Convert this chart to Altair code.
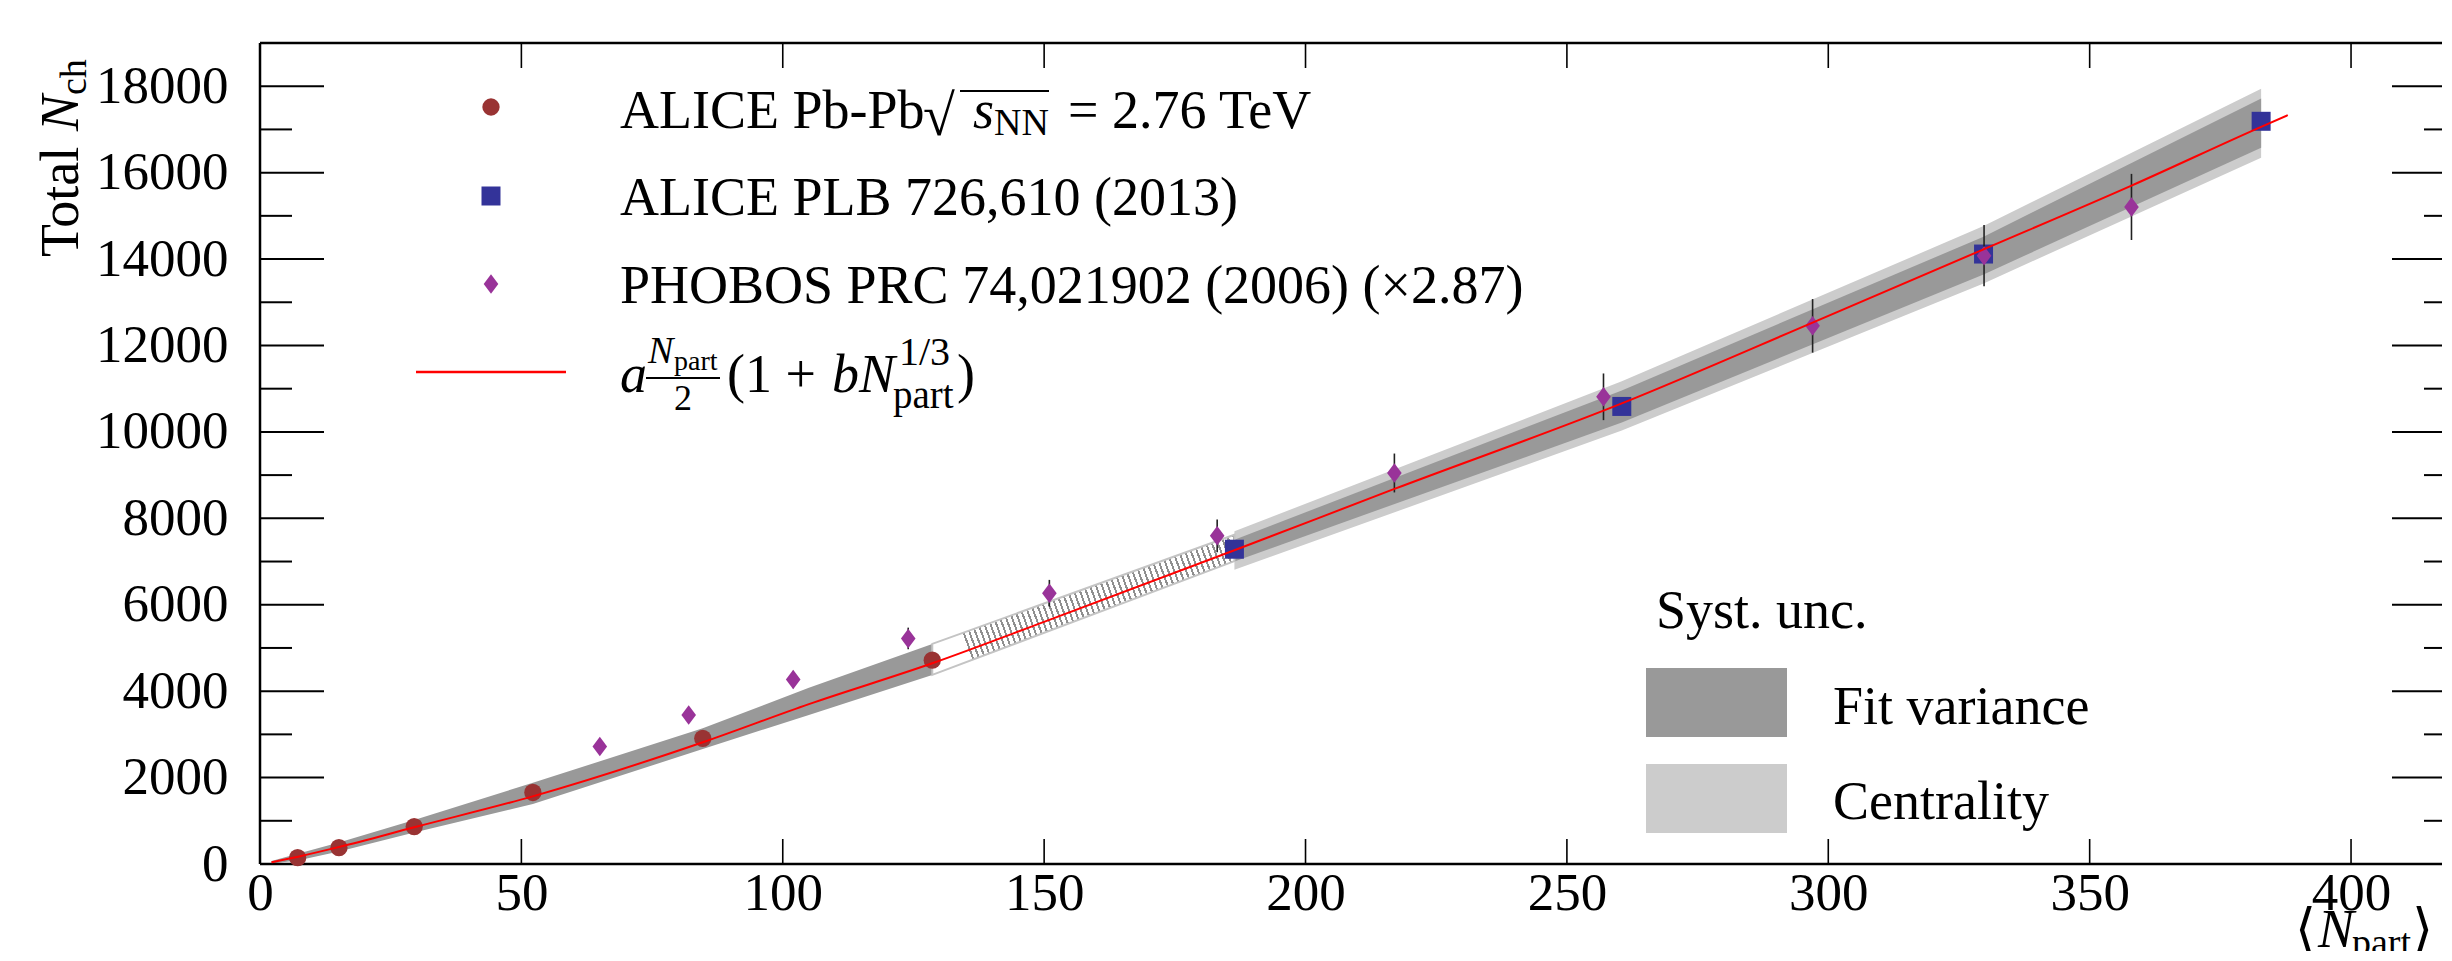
import altair as alt
import pandas as pd

FONT = "Liberation Serif"

# ---------------- data ----------------
alice_x = [7.2, 15.1, 29.5, 52.2, 84.7, 128.6]
alice_y = [146, 378, 866, 1655, 2908, 4717]

plb_x = [186.4, 260.5, 329.7, 382.8]
plb_y = [7285, 10589, 14116, 17188]

phobos_x = [65.0, 82.0, 102.0, 124.0, 151.0, 183.1, 217.0, 257.0, 297.0, 329.8, 358.0]
phobos_y = [2722, 3449, 4269, 5220, 6265, 7594, 9049, 10812, 12454, 14079, 15206]
phobos_err = [150, 170, 200, 250, 310, 380, 450, 540, 620, 710, 765]

fit_x = [2.2, 7.3, 15.0, 29.5, 52.0, 85.0, 105.0, 128.6, 151.0, 186.4, 217.0, 260.5,
         297.0, 329.7, 358.0, 382.8, 387.9]
fit_y = [40, 170, 390, 850, 1560, 2830, 3700, 4645, 5650, 7260, 8680, 10660,
         12530, 14225, 15700, 17060, 17330]

# fit-variance band, peripheral part
band_l_x = [2.2, 7.2, 15.1, 29.5, 52.2, 84.7, 105.0, 128.6]
band_l_lo = [10, 80, 290, 730, 1390, 2660, 3451, 4376]
band_l_hi = [70, 240, 500, 1020, 1880, 3140, 4077, 5093]

# interpolated (hatched) part
hatch_x = [128.6, 186.4]
hatch_lo = [4376, 7010]
hatch_hi = [5093, 7620]

# central part: fit variance (dark) and centrality (light)
band_r_x = [186.4, 260.5, 329.7, 382.8]
light_lo = [6807, 10030, 13435, 16347]
light_hi = [7700, 11170, 14763, 17944]
dark_lo = [7003, 10215, 13644, 16578]
dark_hi = [7505, 10960, 14517, 17713]

x_labels = [0, 50, 100, 150, 200, 250, 300, 350, 400]
x_ticks = [50, 100, 150, 200, 250, 300, 350, 400]
y_major = [0, 2000, 4000, 6000, 8000, 10000, 12000, 14000, 16000, 18000]
y_minor = [1000, 3000, 5000, 7000, 9000, 11000, 13000, 15000, 17000]

# ---------------- layout ----------------
W, H = 2182, 821
C_ALICE = "#993333"
C_PLB = "#333399"
C_PHOBOS = "#993399"
DIAMOND = "M0,-1L0.75,0L0,1L-0.75,0Z"

xs = alt.Scale(domain=[0, 417.4], nice=False, zero=False)
ys = alt.Scale(domain=[0, 19000], nice=False, zero=False)
xax = alt.Axis(values=x_labels, format="d", ticks=False, domain=False, grid=False,
               labelFont=FONT, labelFontSize=53, labelPadding=3, labelFlush=False,
               labelColor="black", labelOverlap=False, title=None)
yax = alt.Axis(values=y_major, format="d", ticks=False, domain=False, grid=False,
               labelFont=FONT, labelFontSize=53, labelPadding=32, labelFlush=False,
               labelColor="black", labelOverlap=False, title=None)


def X(f):
    return alt.X(f, type="quantitative", scale=xs, axis=xax)


def Y(f):
    return alt.Y(f, type="quantitative", scale=ys, axis=yax)


one = pd.DataFrame({"k": [0]})


def T(text, px, py, size=54, italic=False, angle=0, align="left"):
    kw = dict(text=text, font=FONT, fontSize=size, align=align, baseline="alphabetic",
              color="black")
    if italic:
        kw["fontStyle"] = "italic"
    if angle:
        kw["angle"] = angle
    return alt.Chart(one).mark_text(**kw).encode(x=alt.value(px), y=alt.value(py))


def hrule(x1, x2, y, color="black", sw=2.0):
    return alt.Chart(one).mark_rule(color=color, strokeWidth=sw).encode(
        x=alt.value(x1), x2=alt.value(x2), y=alt.value(y))


def vrule(x, y1, y2, color="black", sw=2.0):
    return alt.Chart(one).mark_rule(color=color, strokeWidth=sw).encode(
        x=alt.value(x), y=alt.value(y1), y2=alt.value(y2))


def rect(x1, x2, y1, y2, color):
    return alt.Chart(one).mark_rect(color=color).encode(
        x=alt.value(x1), x2=alt.value(x2), y=alt.value(y1), y2=alt.value(y2))


# ---------------- tables ----------------
df_band_l = pd.DataFrame({"x": band_l_x, "lo": band_l_lo, "hi": band_l_hi})
df_hatch = pd.DataFrame({"x": hatch_x, "lo": hatch_lo, "hi": hatch_hi})
df_light = pd.DataFrame({"x": band_r_x, "lo": light_lo, "hi": light_hi})
df_dark = pd.DataFrame({"x": band_r_x, "lo": dark_lo, "hi": dark_hi})
df_alice = pd.DataFrame({"x": alice_x, "y": alice_y})
df_plb = pd.DataFrame({"x": plb_x, "y": plb_y})
df_ph = pd.DataFrame({"x": phobos_x, "y": phobos_y,
                      "lo": [v - e for v, e in zip(phobos_y, phobos_err)],
                      "hi": [v + e for v, e in zip(phobos_y, phobos_err)]})
df_fit = pd.DataFrame({"x": fit_x, "y": fit_y})
df_ymaj = pd.DataFrame({"v": y_major})
df_ymin = pd.DataFrame({"v": y_minor})
df_xt = pd.DataFrame({"v": x_ticks})

# hatch pattern as a striped gradient
stops = []
N_STRIPES = 52
for k in range(N_STRIPES):
    a = k / N_STRIPES
    b = (k + 0.55) / N_STRIPES
    c = (k + 0.9) / N_STRIPES
    d = (k + 1) / N_STRIPES
    stops += [alt.GradientStop(color="#ffffff", offset=a),
              alt.GradientStop(color="#ffffff", offset=b),
              alt.GradientStop(color="#8f8f8f", offset=b),
              alt.GradientStop(color="#8f8f8f", offset=c),
              alt.GradientStop(color="#ffffff", offset=c),
              alt.GradientStop(color="#ffffff", offset=min(d, 1.0))]
hatch_fill = alt.LinearGradient(gradient="linear", stops=stops, x1=0, y1=0.169, x2=1, y2=0)

layers = []
layers.append(alt.Chart(df_band_l).mark_area(color="#999999", opacity=1).encode(
    x=X("x"), y=Y("lo"), y2=alt.Y2("hi")))
layers.append(alt.Chart(df_light).mark_area(color="#cccccc", opacity=1).encode(
    x=X("x"), y=Y("lo"), y2=alt.Y2("hi")))
layers.append(alt.Chart(df_dark).mark_area(color="#999999", opacity=1).encode(
    x=X("x"), y=Y("lo"), y2=alt.Y2("hi")))
layers.append(alt.Chart(df_hatch).mark_area(fill=hatch_fill, stroke="#c4c4c4", strokeWidth=2,
                                            opacity=1).encode(
    x=X("x"), y=Y("lo"), y2=alt.Y2("hi")))

# ticks (inward, ROOT style)
layers.append(alt.Chart(df_ymaj).mark_rule(color="black", strokeWidth=2).encode(
    y=Y("v"), x=alt.value(0), x2=alt.value(64)))
layers.append(alt.Chart(df_ymin).mark_rule(color="black", strokeWidth=2).encode(
    y=Y("v"), x=alt.value(0), x2=alt.value(32)))
layers.append(alt.Chart(df_ymaj).mark_rule(color="black", strokeWidth=2).encode(
    y=Y("v"), x=alt.value(W - 50), x2=alt.value(W)))
layers.append(alt.Chart(df_ymin).mark_rule(color="black", strokeWidth=2).encode(
    y=Y("v"), x=alt.value(W - 18), x2=alt.value(W)))
layers.append(alt.Chart(df_xt).mark_rule(color="black", strokeWidth=1.6).encode(
    x=X("v"), y=alt.value(H - 25), y2=alt.value(H)))
layers.append(alt.Chart(df_xt).mark_rule(color="black", strokeWidth=1.6).encode(
    x=X("v"), y=alt.value(0), y2=alt.value(25)))
# frame
layers.append(hrule(0, W, 0, sw=2.5))
layers.append(hrule(0, W, H, sw=2.5))
layers.append(vrule(0, 0, H, sw=2.5))

# data markers
layers.append(alt.Chart(df_alice).mark_point(shape="circle", filled=True, size=300,
                                             color=C_ALICE, opacity=1).encode(
    x=X("x"), y=Y("y")))
layers.append(alt.Chart(df_plb).mark_point(shape="square", filled=True, size=361,
                                           color=C_PLB, opacity=1).encode(
    x=X("x"), y=Y("y")))
layers.append(alt.Chart(df_ph).mark_rule(color="#222222", strokeWidth=1.6).encode(
    x=X("x"), y=Y("lo"), y2=alt.Y2("hi")))
layers.append(alt.Chart(df_ph).mark_point(shape=DIAMOND, filled=True, size=380,
                                          color=C_PHOBOS, opacity=1).encode(
    x=X("x"), y=Y("y")))
layers.append(alt.Chart(df_fit).mark_line(color="#ff0000", strokeWidth=2,
                                          interpolate="monotone").encode(
    x=X("x"), y=Y("y")))

# ---------------- legend (top left) ----------------
layers.append(alt.Chart(one).mark_point(shape="circle", filled=True, size=300, color=C_ALICE,
                                        opacity=1).encode(x=alt.value(231), y=alt.value(64)))
layers.append(alt.Chart(one).mark_point(shape="square", filled=True, size=361, color=C_PLB,
                                        opacity=1).encode(x=alt.value(231), y=alt.value(153)))
layers.append(alt.Chart(one).mark_point(shape=DIAMOND, filled=True, size=380, color=C_PHOBOS,
                                        opacity=1).encode(x=alt.value(231), y=alt.value(241)))
layers.append(hrule(156, 306, 329, color="#ff0000", sw=2.5))

layers.append(T("ALICE Pb-Pb", 360, 85))
layers.append(T("\u221a", 663, 92, size=58))
layers.append(hrule(700, 789, 48, sw=2))
layers.append(T("s", 713, 85, italic=True))
layers.append(T("NN", 734, 92, size=38))
layers.append(T("= 2.76 TeV", 808, 85))
layers.append(T("ALICE PLB 726,610 (2013)", 360, 172))
layers.append(T("PHOBOS PRC 74,021902 (2006) (\u00d72.87)", 360, 260))
layers.append(T("a", 360, 349, italic=True))
layers.append(hrule(386, 460, 335, sw=2))
layers.append(T("N", 388, 320, size=38, italic=True))
layers.append(T("part", 414, 327, size=28))
layers.append(T("2", 423, 367, size=36, align="center"))
layers.append(T("(1 + ", 467, 349))
layers.append(T("bN", 572, 349, italic=True))
layers.append(T("1/3", 639, 322, size=40))
layers.append(T("part", 633, 365, size=39))
layers.append(T(")", 697, 349))

# ---------------- legend (systematics) ----------------
layers.append(T("Syst. unc.", 1396, 585))
layers.append(rect(1386, 1527, 625, 694, "#999999"))
layers.append(T("Fit variance", 1573, 681))
layers.append(rect(1386, 1527, 721, 790, "#cccccc"))
layers.append(T("Centrality", 1573, 776))

# ---------------- axis titles ----------------
layers.append(T("Total", -182, 214, angle=270))
layers.append(T("N", -182, 88, italic=True, angle=270))
layers.append(T("ch", -174, 52, size=38, angle=270))

layers.append(T("\u27e8", 2035, 904))
layers.append(T("N", 2058, 904, italic=True))
layers.append(T("part", 2092, 912, size=38))
layers.append(T("\u27e9", 2152, 904))

chart = alt.layer(*layers).properties(
    width=W, height=H,
    padding={"left": 252, "top": 35, "right": 0, "bottom": 87},
    autosize=alt.AutoSizeParams(type="none"),
    background="white",
).configure_view(stroke=None).configure_axis(labelFont=FONT, labelFontSize=53)

chart.save("out.html", embed_options={"renderer": "svg", "actions": False})
